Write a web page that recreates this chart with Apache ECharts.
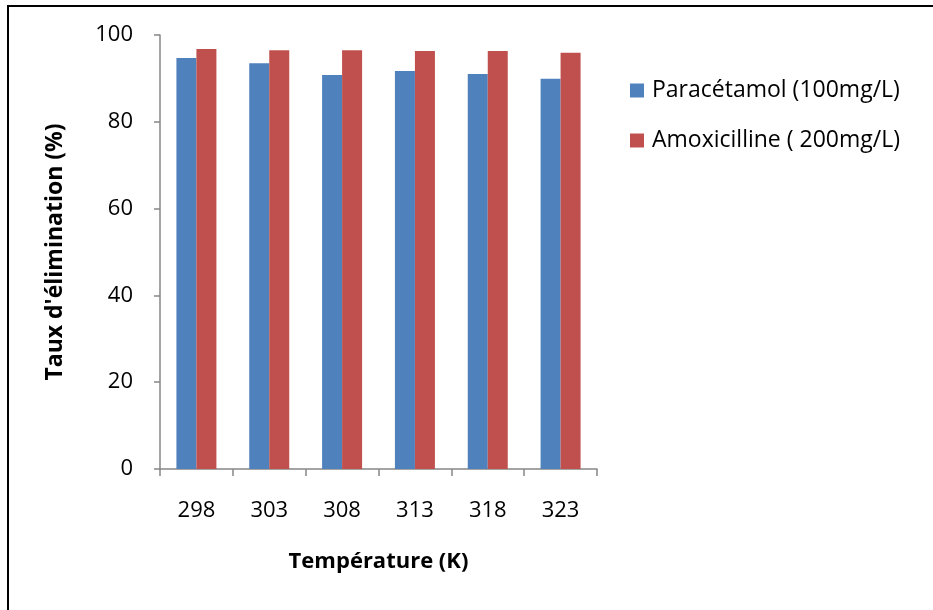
<!DOCTYPE html>
<html><head><meta charset="utf-8">
<script src="https://cdn.jsdelivr.net/npm/echarts@6/dist/echarts.min.js"></script>
<style>html,body{margin:0;padding:0;background:#fff}#c{width:933px;height:610px}</style>
</head><body><div id="c"></div>
<script>
const categories = ['298', '303', '308', '313', '318', '323'];
const paracetamol = [94.7, 93.5, 90.8, 91.7, 91.0, 89.9];
const amoxicilline = [96.8, 96.5, 96.5, 96.3, 96.3, 95.9];
const seriesNames = ['Paracétamol (100mg/L)', 'Amoxicilline ( 200mg/L)'];
const yTicks = [0, 20, 40, 60, 80, 100];

const font = 'Open Sans';
const chart = echarts.init(document.getElementById('c'));
chart.setOption({
  animation: false,
  backgroundColor: '#fff',
  graphic: [{
    type: 'rect', shape: {x: 8, y: 6, width: 1200, height: 1200},
    style: {fill: 'none', stroke: '#000', lineWidth: 2}, silent: true
  }],
  grid: {left: 160, right: 336, top: 35, bottom: 141, containLabel: false},
  legend: {
    orient: 'vertical', left: 630, top: 79, itemWidth: 14, itemHeight: 14, itemGap: 27,
    icon: 'rect', padding: 0,
    textStyle: {fontFamily: font, fontSize: 23, color: '#000', padding: [0, 0, 0, 3]},
    data: seriesNames
  },
  xAxis: {
    type: 'category', data: categories,
    name: 'Température (K)', nameLocation: 'middle', nameGap: 82,
    nameTextStyle: {fontFamily: font, fontSize: 22, fontWeight: 'bold', color: '#000'},
    axisLine: {lineStyle: {color: '#868686', width: 1.5}},
    axisTick: {show: true, length: 7, lineStyle: {color: '#868686', width: 1.5}},
    axisLabel: {fontFamily: font, fontSize: 22, color: '#000', margin: 31}
  },
  yAxis: {
    type: 'value', min: 0, max: 100, interval: 20,
    name: "Taux d'élimination (%)", nameLocation: 'middle', nameGap: 93,
    nameTextStyle: {fontFamily: font, fontSize: 23, fontWeight: 'bold', color: '#000'},
    axisLine: {show: true, lineStyle: {color: '#868686', width: 1.5}},
    axisTick: {show: true, length: 6, lineStyle: {color: '#868686', width: 1.5}},
    axisLabel: {fontFamily: font, fontSize: 22, color: '#000', margin: 27,
      formatter: v => yTicks.includes(v) ? String(v) : ''},
    splitLine: {show: false}
  },
  series: [
    {name: seriesNames[0], type: 'bar', data: paracetamol, barWidth: 20, barGap: '0%',
     itemStyle: {color: '#4F81BD'}},
    {name: seriesNames[1], type: 'bar', data: amoxicilline, barWidth: 20, barGap: '0%',
     itemStyle: {color: '#C0504D'}}
  ]
});
</script></body></html>
